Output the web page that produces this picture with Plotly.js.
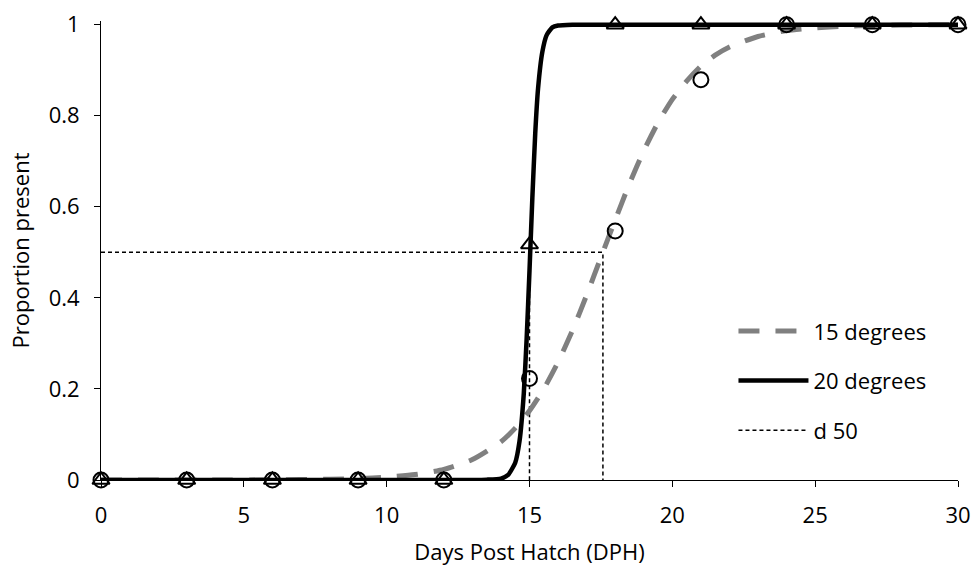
<!DOCTYPE html>
<html>
<head>
<meta charset="utf-8">
<script src="https://cdn.plot.ly/plotly-3.0.1.min.js"></script>
<style>body{margin:0;background:#fff;} #chart{width:974px;height:566px;}</style>
</head>
<body>
<div id="chart"></div>
<script>
// Observed data points
const obsX = [0, 3, 6, 9, 12, 15, 18, 21, 24, 27, 30];
const obs15 = [0, 0, 0, 0, 0, 0.223, 0.547, 0.879, 1, 1, 1];
const obs20 = [0, 0, 0, 0, 0, 0.517, 1, 1, 1, 1, 1];

// Fitted curve for 15 degrees
const fit15X = [0, 2, 4, 6, 8, 9, 10, 11, 12, 13, 14, 14.5, 15, 15.5, 16, 16.5, 17, 17.5, 18, 18.5, 19, 19.5, 20, 20.5, 21, 21.5, 22, 23, 24, 25, 26, 27, 28, 30];
const fit15Y = [0, 0, 0.0001, 0.0004, 0.0016, 0.0032, 0.0062, 0.012, 0.023, 0.045, 0.084, 0.114, 0.152, 0.2, 0.259, 0.328, 0.406, 0.489, 0.571, 0.651, 0.723, 0.785, 0.836, 0.876, 0.909, 0.933, 0.951, 0.974, 0.987, 0.993, 0.9965, 0.998, 0.999, 1];

// Fitted curve for 20 degrees
const fit20X = [0, 4, 8, 12, 13, 13.5, 14, 14.25, 14.5, 14.65, 14.8, 14.9, 15.0, 15.1, 15.2, 15.3, 15.45, 15.6, 15.8, 16.0, 16.5, 17, 20, 25, 30];
const fit20Y = [0, 0, 0, 0, 0.0002, 0.0008, 0.003, 0.011, 0.038, 0.085, 0.19, 0.31, 0.46, 0.62, 0.76, 0.86, 0.94, 0.977, 0.994, 0.998, 0.9998, 1, 1, 1, 1];

// d50 reference lines
const d50X = [0, 17.57, 17.57, null, 15.0, 15.0];
const d50Y = [0.5, 0.5, 0, null, 0.5, 0];

const FONT = 'Open Sans, sans-serif';
const FS = 22;

const traces = [
  {x: d50X, y: d50Y, mode: 'lines', name: 'd 50', legendgroup: 'c', legendrank: 3,
   line: {color: '#000', width: 1.5, dash: '4px,3px'}, connectgaps: false},
  {x: fit15X, y: fit15Y, mode: 'lines', name: '15 degrees', legendgroup: 'a', legendrank: 1,
   line: {color: '#808080', width: 5, dash: '21px,16px', shape: 'spline', smoothing: 0.6}},
  {x: fit20X, y: fit20Y, mode: 'lines', name: '20 degrees', legendgroup: 'b', legendrank: 2,
   line: {color: '#000', width: 4.5, shape: 'spline', smoothing: 0.5}},
  {x: obsX, y: obs15, mode: 'markers', showlegend: false, cliponaxis: false,
   marker: {symbol: 'circle-open', size: 15, color: '#000', line: {width: 2, color: '#000'}}},
  {x: obsX, y: obs20, mode: 'markers', showlegend: false, cliponaxis: false,
   marker: {symbol: 'triangle-up-open', size: 15, color: '#000', line: {width: 2, color: '#000'}}}
];

const layout = {
  width: 974, height: 566,
  margin: {l: 101, r: 16, t: 21, b: 86},
  paper_bgcolor: '#fff', plot_bgcolor: '#fff',
  font: {family: FONT, size: FS, color: '#000'},
  showlegend: true,
  legend: {x: 0.738, y: 0.37, xanchor: 'left', yanchor: 'top', bgcolor: 'rgba(0,0,0,0)',
           font: {family: FONT, size: FS, color: '#000'}, tracegroupgap: 18, itemwidth: 70,
           traceorder: 'grouped'},
  xaxis: {range: [0, 30], tickvals: [0, 5, 10, 15, 20, 25, 30], showgrid: false, zeroline: false,
          showline: true, linecolor: '#000', linewidth: 1, ticks: 'outside', ticklen: 6, tickcolor: '#000',
          tickfont: {family: FONT, size: FS}, ticklabelstandoff: 10,
          title: {text: 'Days Post Hatch (DPH)', font: {family: FONT, size: FS}, standoff: 19}},
  yaxis: {range: [0, 1.008], tickvals: [0, 0.2, 0.4, 0.6, 0.8, 1], ticktext: ['0', '0.2', '0.4', '0.6', '0.8', '1'],
          showgrid: false, zeroline: false,
          showline: true, linecolor: '#000', linewidth: 1, ticks: 'outside', ticklen: 6, tickcolor: '#000',
          tickfont: {family: FONT, size: FS}, ticklabelstandoff: 10,
          title: {text: 'Proportion present', font: {family: FONT, size: FS}, standoff: 12}}
};

Plotly.newPlot('chart', traces, layout, {displayModeBar: false, staticPlot: true});
</script>
</body>
</html>
